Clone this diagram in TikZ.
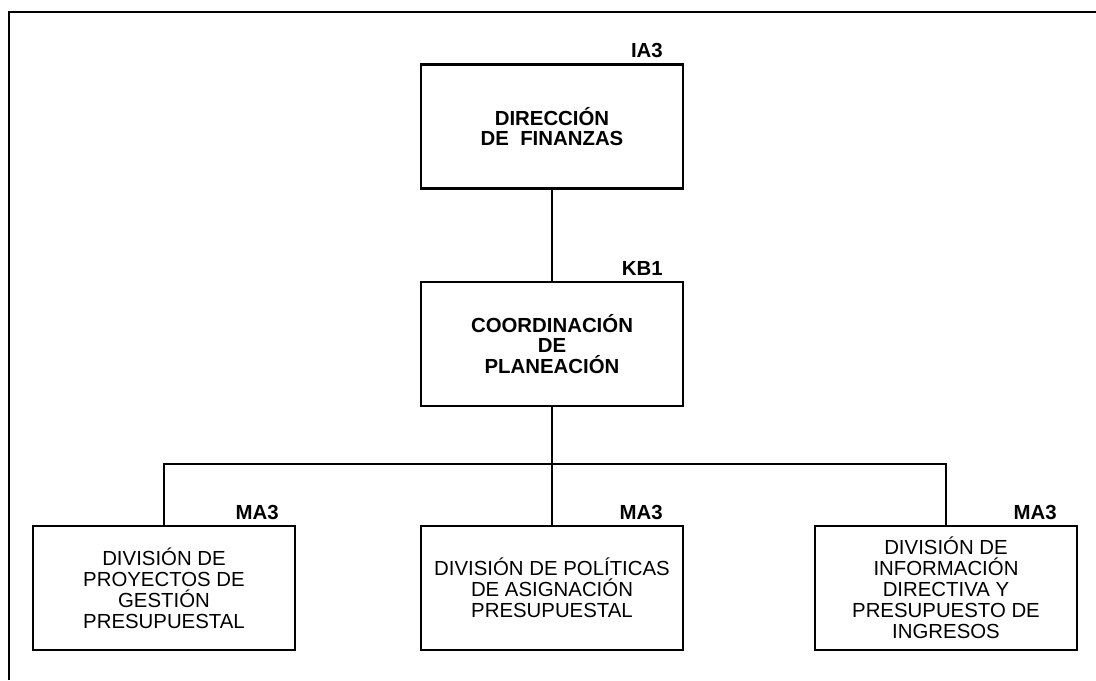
\documentclass[tikz,border=0pt]{standalone}
\usepackage{fontspec}
\setmainfont{Liberation Sans}

\begin{document}
\begin{tikzpicture}[
	unit/.style={draw, line width=2pt, minimum width=6.55cm, minimum height=3.1cm, align=center, inner sep=2pt, font=\fontsize{14.5}{15}\selectfont},
	headunit/.style={unit, font=\fontsize{14.5}{14.5}\selectfont\bfseries},
	code/.style={anchor=south east, inner sep=1pt, font=\fontsize{14.5}{15}\selectfont\bfseries},
	link/.style={line width=1.4pt}
]
	\useasboundingbox (0, 0) rectangle (27.4, 17);

	% marco abierto
	\draw[line width=1.4pt] (0.225, 0) -- (0.225, 16.7) -- (27.4, 16.7);

	\node[headunit] (fin) at (13.8, 13.84) {DIRECCIÓN\\DE~~FINANZAS};
	\node[headunit] (coord) at (13.8, 8.4) {COORDINACIÓN\\DE\\PLANEACIÓN};

	\node[unit] (proy) at (4.1, 2.3) {DIVISIÓN DE\\PROYECTOS DE\\GESTIÓN\\PRESUPUESTAL};
	\node[unit] (pol) at (13.8, 2.3) {DIVISIÓN DE POLÍTICAS\\DE ASIGNACIÓN\\PRESUPUESTAL};
	\node[unit] (info) at (23.65, 2.3) {DIVISIÓN DE\\INFORMACIÓN\\DIRECTIVA Y\\PRESUPUESTO DE\\INGRESOS};

	\node[code] (finCode) at ([xshift=-0.5cm, yshift=0.08cm]fin.north east) {IA3};
	\node[code] (coordCode) at ([xshift=-0.5cm, yshift=0.08cm]coord.north east) {KB1};
	\node[code] (proyCode) at ([xshift=-0.4cm, yshift=0.08cm]proy.north east) {MA3};
	\node[code] (polCode) at ([xshift=-0.5cm, yshift=0.08cm]pol.north east) {MA3};
	\node[code] (infoCode) at ([xshift=-0.5cm, yshift=0.08cm]info.north east) {MA3};

	\coordinate (bus) at (13.8, 5.4);

	\draw[link] (fin) -- (coord);
	\draw[link] (coord) -- (bus);
	\draw[link] (proy.north) |- (bus);
	\draw[link] (info.north) |- (bus);
	\draw[link] (pol) -- (bus);

\end{tikzpicture}
\end{document}
